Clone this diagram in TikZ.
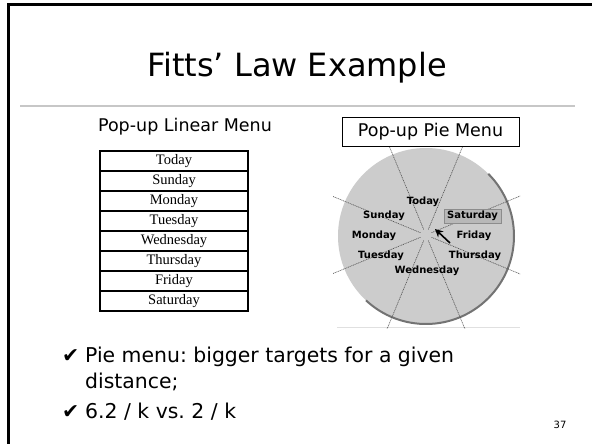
\documentclass[tikz,border=0pt]{standalone}
\usepackage{fontspec}
\setmainfont{DejaVu Sans}
\newfontfamily\serifm{Liberation Serif}
\newfontfamily\piefont{DejaVu Sans}
\usetikzlibrary{arrows.meta,calc}
\frenchspacing
\begin{document}
\begin{tikzpicture}[x=1pt,y=-1pt,
  rowbox/.style={draw=black, line width=1.6pt, minimum width=148pt, minimum height=20pt, inner sep=0pt, font=\serifm\fontsize{14.5}{14.5}\selectfont},
  pielabel/.style={font=\piefont\bfseries\fontsize{10}{10}\selectfont, inner sep=1pt},
  sepline/.style={draw=black!70, line width=0.6pt, dash pattern=on 1pt off 0.8pt},
  bullettext/.style={anchor=base west, inner sep=0pt, font=\fontsize{20.4}{22}\selectfont}
]
\fill[white] (0,0) rectangle (592,444);
\useasboundingbox (0,0) rectangle (592,444);
% border
\draw[line width=3pt] (8,444) -- (8,5) -- (592,5);
% title
\node (title) at (297,68) {\fontsize{32}{34}\selectfont Fitts' Law Example};
\draw[black!22, line width=1.5pt] (20,106) -- (575,106);
% linear menu
\node (lintitle) at (185,127) {\fontsize{17.5}{19}\selectfont Pop-up Linear Menu};
\foreach \t [count=\i] in {Today,Sunday,Monday,Tuesday,Wednesday,Thursday,Friday,Saturday}{
  \node[rowbox] (r\i) at (174,{141+20*\i}) {\t};
}
% pie menu image
\coordinate (pc) at (426,235);
\fill[black!20] (426,236) circle (88);
\draw[black!55, line width=2pt] ($(426,236)+(-45:88)$) arc[start angle=-45, end angle=133, radius=88];
\draw[black!12, line width=1pt] (337,327) -- (520,327);
\begin{scope}
\clip (333,146) rectangle (520,328);
\foreach \a in {22.5,67.5,...,337.5}{
  \draw[sepline] ($(pc)+(\a:6)$) -- ($(pc)+(\a:140)$);
}
\end{scope}
\node[draw=black, line width=0.8pt, minimum height=29pt, minimum width=177pt, inner sep=2pt] (piebox) at (430.5,131.5) {\fontsize{17.5}{19}\selectfont Pop-up Pie Menu};
\node[pielabel, fill=black!28, draw=black!45, minimum width=57pt, minimum height=14pt] (sat) at (472.5,216) {Saturday};
\node[pielabel] (today) at (423,202) {Today};
\node[pielabel] (sun) at (384,216) {Sunday};
\node[pielabel] (mon) at (374,236) {Monday};
\node[pielabel] (tue) at (381,256) {Tuesday};
\node[pielabel] (wed) at (427,271) {Wednesday};
\node[pielabel] (fri) at (474,236) {Friday};
\node[pielabel] (thu) at (475,256) {Thursday};
\coordinate (curtail) at (450,243);
\coordinate (curtip) at (435,229);
\draw[line width=1.6pt, -{Stealth[length=8pt,width=8pt]}] (curtail) -- (curtip);
% bullets
\node[bullettext] (c1) at (62,362) {✔};
\node[bullettext] (b1) at (85,362) {Pie menu: bigger targets for a given};
\node[bullettext] (b1b) at (85,388) {distance;};
\node[bullettext] (c2) at (62,418) {✔};
\node[bullettext] (b2) at (85,418) {6.2 / k vs. 2 / k};
\node (pg) at (560,425) {\fontsize{10}{10}\selectfont 37};
\end{tikzpicture}
\end{document}
